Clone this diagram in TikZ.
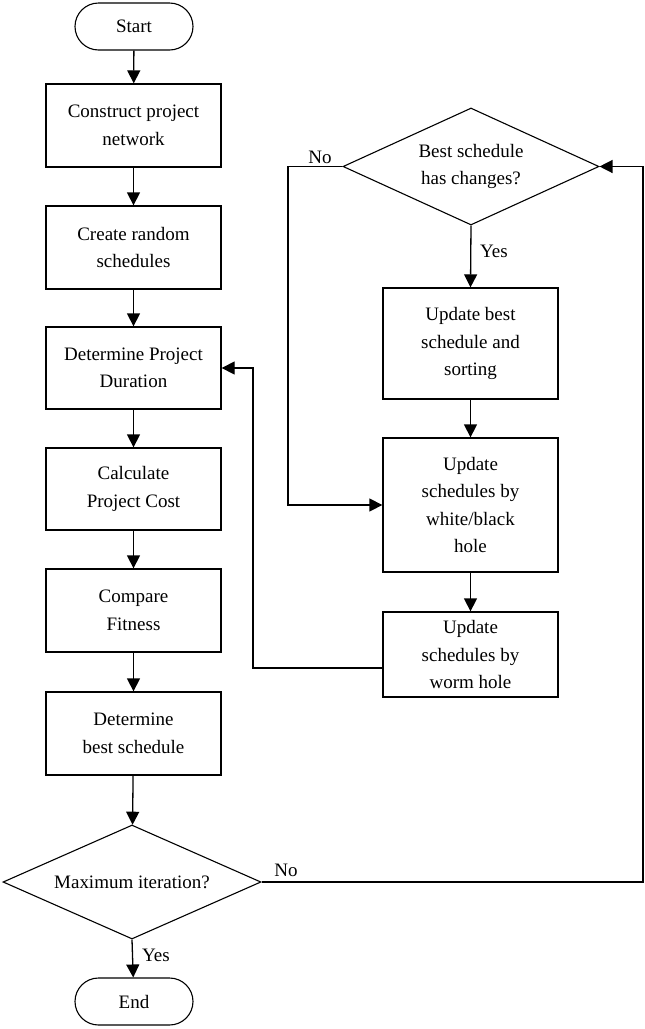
\documentclass[tikz,border=0pt]{standalone}
\usepackage{fontspec}
\setmainfont{Liberation Serif}
\usetikzlibrary{arrows.meta,shapes.geometric,shapes.misc}
\begin{document}
\begin{tikzpicture}[x=1pt,y=-1pt,
  every node/.style={font=\fontsize{19}{27.5}\selectfont},
  procbox/.style={draw,line width=1.3pt,minimum width=175pt,align=center,inner sep=0pt},
  termbox/.style={draw,line width=1.1pt,rounded rectangle,minimum width=118pt,minimum height=47pt,inner sep=0pt},
  decbox/.style={draw,line width=1.1pt,diamond,aspect=2.2,inner sep=0pt,align=center},
  flow/.style={line width=1.3pt,-{Triangle[length=13pt,width=13pt]}},
  lbl/.style={inner sep=0pt}]
\useasboundingbox (0,0) rectangle (645,1029);
\fill[white] (0,0) rectangle (645,1029);
% left column
\node[termbox] (start) at (134,26.5) {Start};
\node[procbox,minimum height=83pt] (b1) at (133.5,125.5) {Construct project\\network};
\node[procbox,minimum height=83pt] (b2) at (133.5,247.5) {Create random\\schedules};
\node[procbox,minimum height=82pt] (b3) at (133.5,368) {Determine Project\\Duration};
\node[procbox,minimum height=82pt] (b4) at (133.5,489) {Calculate\\Project Cost};
\node[procbox,minimum height=83pt] (b5) at (133.5,610.5) {Compare\\Fitness};
\node[procbox,minimum height=83pt] (b6) at (133.5,733.5) {Determine\\best schedule};
\node[decbox,minimum width=258pt,minimum height=114pt] (d2) at (132,882) {Maximum iteration?};
\node[termbox] (end) at (134,1001.5) {End};
% right column
\node[decbox,minimum width=256pt,minimum height=117pt] (d1) at (471,166.5) {Best schedule\\has changes?};
\node[procbox,minimum height=111pt] (ba) at (470.5,343.5) {Update best\\schedule and\\sorting};
\node[procbox,minimum height=134pt] (bb) at (470.5,505) {Update\\schedules by\\white/black\\hole};
\node[procbox,minimum height=85pt] (bc) at (470.5,654.5) {Update\\schedules by\\worm hole};
% coordinates
\coordinate (rr1) at (643,882);
\coordinate (rr2) at (643,166.5);
\coordinate (ll1) at (288,166.5);
\coordinate (ll2) at (288,505);
\coordinate (wc1) at (253,668);
\coordinate (wc2) at (253,368);
% connectors
\draw[flow] (start) -- (b1);
\draw[flow] (b1) -- (b2);
\draw[flow] (b2) -- (b3);
\draw[flow] (b3) -- (b4);
\draw[flow] (b4) -- (b5);
\draw[flow] (b5) -- (b6);
\draw[flow] (b6) -- (d2);
\draw[flow] (d2.south) -- (end);
\draw[flow] (d2.east) -- (rr1) -- (rr2) -- (d1.east);
\draw[flow] (d1.west) -- (ll1) -- (ll2) -- (bb.west);
\draw[flow] (d1.south) -- (ba.north);
\draw[flow] (ba) -- (bb);
\draw[flow] (bb) -- (bc);
\draw[flow] (bc.west |- wc1) -- (wc1) -- (wc2) -- (b3.east);
% labels
\node[lbl] (lno1) at (320,157) {No};
\node[lbl] (lno2) at (286,870) {No};
\node[lbl] (lyes1) at (494,251) {Yes};
\node[lbl] (lyes2) at (156,955) {Yes};
\end{tikzpicture}
\end{document}
